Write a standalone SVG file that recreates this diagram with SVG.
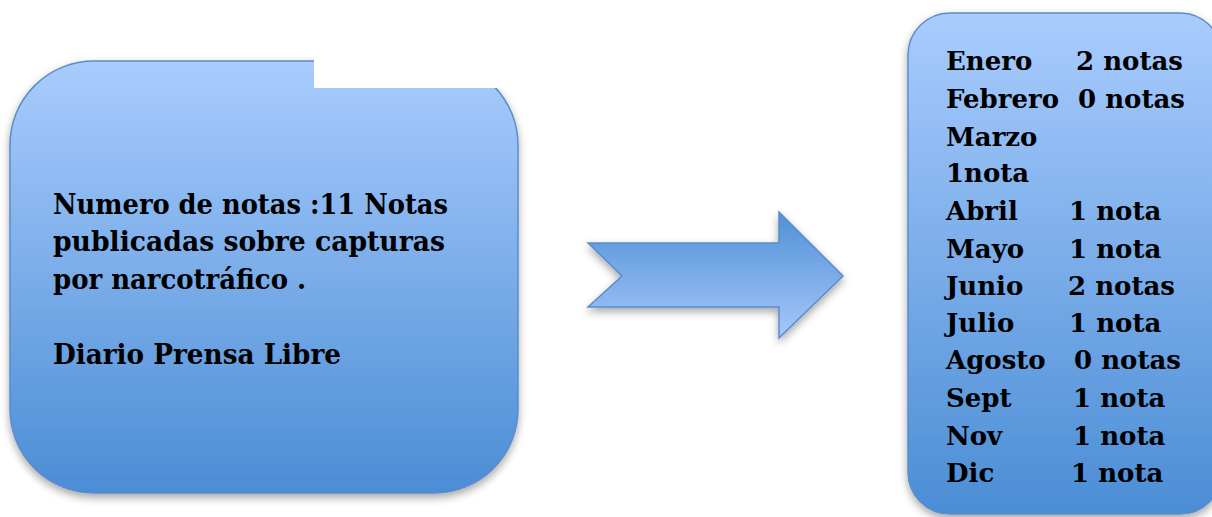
<svg xmlns="http://www.w3.org/2000/svg" width="1212" height="517" viewBox="0 0 1212 517">
<defs>
<linearGradient id="gBox" x1="0" y1="0" x2="0" y2="1">
<stop offset="0" stop-color="#a9ccfd"/>
<stop offset="1" stop-color="#4b8dd5"/>
</linearGradient>
<linearGradient id="gArrow" x1="0" y1="0" x2="0" y2="1">
<stop offset="0" stop-color="#5090d8"/>
<stop offset="1" stop-color="#a5c8f8"/>
</linearGradient>
<filter id="sh" x="-10%" y="-10%" width="120%" height="125%">
<feDropShadow dx="0" dy="4" stdDeviation="4" flood-color="#000" flood-opacity="0.35"/>
</filter>
</defs>
<style>
.box{fill:url(#gBox);stroke:#5a8ccc;stroke-width:1.5;filter:url(#sh)}
.t{font-family:"DejaVu Serif","Liberation Serif",serif;font-weight:bold;font-size:27px;fill:#000}
.r{font-family:"DejaVu Serif","Liberation Serif",serif;font-weight:bold;font-size:26px;fill:#000}
</style>
<rect width="1212" height="517" fill="#fff"/>
<g id="node-left">
<rect class="box" x="10" y="61" width="508" height="432" rx="84" ry="84"/>
<rect x="314" y="50" width="188" height="38" fill="#fff"/>
<text class="t" x="53" y="214" textLength="395" lengthAdjust="spacingAndGlyphs">Numero de notas :11 Notas</text>
<text class="t" x="53" y="251" textLength="392" lengthAdjust="spacingAndGlyphs">publicadas sobre capturas</text>
<text class="t" x="53" y="289" textLength="253" lengthAdjust="spacingAndGlyphs">por narcotráfico .</text>
<text class="t" x="53" y="364" textLength="288" lengthAdjust="spacingAndGlyphs">Diario Prensa Libre</text>
</g>
<g id="connectors">
<polygon points="588,243 779,243 779,212 843,276 779,338 779,307 588,307 622,276" fill="url(#gArrow)" stroke="#5a8ccc" stroke-width="1.5" filter="url(#sh)"/>
</g>
<g id="node-right">
<rect class="box" x="908" y="13" width="314" height="501" rx="42" ry="42"/>
<text class="r" x="946" y="70">Enero</text><text class="r" x="1076" y="70">2 notas</text>
<text class="r" x="946" y="108">Febrero</text><text class="r" x="1078" y="108">0 notas</text>
<text class="r" x="946" y="146">Marzo</text>
<text class="r" x="946" y="182">1nota</text>
<text class="r" x="946" y="220">Abril</text><text class="r" x="1069" y="220">1 nota</text>
<text class="r" x="946" y="258">Mayo</text><text class="r" x="1069" y="258">1 nota</text>
<text class="r" x="946" y="295">Junio</text><text class="r" x="1068" y="295">2 notas</text>
<text class="r" x="946" y="332">Julio</text><text class="r" x="1069" y="332">1 nota</text>
<text class="r" x="946" y="369">Agosto</text><text class="r" x="1074" y="369">0 notas</text>
<text class="r" x="946" y="407">Sept</text><text class="r" x="1073" y="407">1 nota</text>
<text class="r" x="946" y="445">Nov</text><text class="r" x="1073" y="445">1 nota</text>
<text class="r" x="946" y="482">Dic</text><text class="r" x="1071" y="482">1 nota</text>
</g>
</svg>
